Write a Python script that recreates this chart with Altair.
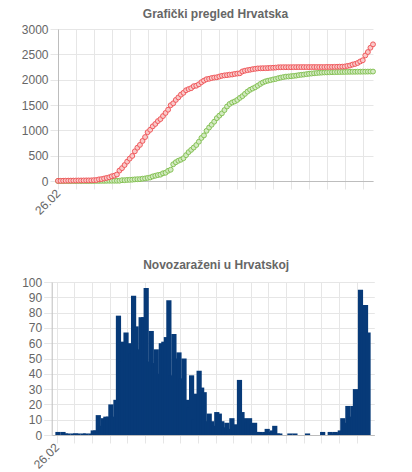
import altair as alt
import pandas as pd

first_label = "26.02"
title_top = "Grafički pregled Hrvatska"
title_bottom = "Novozaraženi u Hrvatskoj"

# cumulative confirmed cases (red)
cases_total = [
    3, 3, 5, 6, 7, 7, 8, 9, 10, 10,
    11, 12, 12, 13, 16, 19, 32, 38, 49, 61,
    73, 93, 105, 128, 206, 254, 315, 382, 442, 495,
    586, 657, 713, 790, 867, 963, 1011, 1079, 1126, 1182,
    1222, 1282, 1343, 1407, 1495, 1534, 1600, 1650, 1704, 1741,
    1791, 1814, 1832, 1871, 1881, 1908, 1950, 1981, 2009, 2018,
    2032, 2041, 2047, 2062, 2076, 2085, 2090, 2098, 2102, 2113,
    2120, 2126, 2162, 2177, 2188, 2196, 2207, 2214, 2222, 2224,
    2226, 2227, 2229, 2233, 2235, 2238, 2244, 2245, 2246, 2246,
    2246, 2246, 2247, 2247, 2248, 2248, 2248, 2248, 2248, 2249,
    2249, 2249, 2249, 2249, 2249, 2251, 2251, 2251, 2253, 2254,
    2256, 2257, 2260, 2271, 2279, 2298, 2310, 2329, 2359, 2383,
    2478, 2545, 2630, 2697,
]

# cumulative recovered (green)
recovered = [
    0, 0, 0, 0, 0, 0, 0, 0, 0, 0,
    0, 0, 0, 0, 1, 2, 2, 3, 3, 4,
    5, 5, 5, 5, 5, 16, 16, 21, 23, 26,
    32, 35, 36, 45, 51, 61, 69, 90, 104, 117,
    125, 152, 163, 201, 222, 330, 370, 400, 420, 450,
    510, 570, 615, 660, 710, 775, 850, 900, 990, 1055,
    1110, 1170, 1240, 1290, 1335, 1400, 1470, 1520, 1550, 1570,
    1600, 1640, 1675, 1720, 1765, 1800, 1825, 1850, 1880, 1915,
    1944, 1966, 1980, 1991, 2004, 2014, 2029, 2040, 2051, 2060,
    2063, 2069, 2074, 2080, 2090, 2096, 2101, 2109, 2116, 2121,
    2126, 2131, 2136, 2139, 2142, 2144, 2146, 2148, 2149, 2150,
    2151, 2152, 2153, 2154, 2155, 2155, 2156, 2157, 2157, 2158,
    2158, 2159, 2160, 2160,
]

# daily new cases (bars)
new_cases = [
    2, 0, 2, 1, 1, 0, 1, 1, 1, 0,
    1, 1, 0, 1, 3, 3, 13, 6, 11, 12,
    12, 20, 12, 23, 78, 48, 61, 67, 60, 53,
    91, 71, 56, 77, 77, 96, 48, 68, 47, 56,
    40, 60, 61, 64, 88, 39, 66, 50, 54, 37,
    50, 23, 18, 39, 10, 27, 42, 31, 28, 9,
    14, 9, 6, 15, 14, 9, 5, 8, 4, 11,
    7, 6, 36, 15, 11, 8, 11, 7, 8, 2,
    2, 1, 2, 4, 2, 3, 6, 1, 1, 0,
    0, 0, 1, 0, 1, 0, 0, 0, 0, 1,
    0, 0, 0, 0, 0, 2, 0, 0, 2, 1,
    2, 1, 3, 11, 8, 19, 12, 19, 30, 24,
    95, 67, 85, 67,
]

n = len(cases_total)
days = list(range(n))
top_df = pd.DataFrame({"day": days, "zarazeni": cases_total, "izlijeceni": recovered})
bottom_df = pd.DataFrame({"day": days, "novi": new_cases})

FONT = "Liberation Sans"
GRID = "#e6e6e6"
AXIS = "#bdbdbd"
LABEL = "#666666"
RED = "#f0595c"
RED_FILL = "#f9c9c9"
GREEN = "#86c256"
GREEN_FILL = "#d3eac2"
NAVY = "#073a78"

common = dict(
    title=None, grid=True, gridColor=GRID, tickColor=GRID, tickSize=8,
    domainColor=AXIS, labelColor=LABEL, labelFont=FONT, labelFontSize=12,
    labelPadding=2,
)

x_top = alt.X(
    "day:Q",
    scale=alt.Scale(domain=[0, n - 1], nice=False, zero=False),
    axis=alt.Axis(
        values=list(range(0, n, 7)),
        labelExpr=f"datum.value == 0 ? '{first_label}' : ''",
        labelAngle=315, labelAlign="right", labelBaseline="middle",
        labelFlush=False, labelOverlap=False, **common,
    ),
)
y_scale_top = alt.Scale(domain=[0, 3000], nice=False)
y_axis_top = alt.Axis(values=list(range(0, 3001, 500)), format="d", **common)

base = alt.Chart(top_df)
g_line = base.mark_line(color=GREEN, strokeWidth=1).encode(
    x=x_top, y=alt.Y("izlijeceni:Q", scale=y_scale_top, axis=y_axis_top))
g_pts = base.mark_circle(size=24, fill=GREEN_FILL, stroke=GREEN, strokeWidth=1, opacity=1).encode(
    x=x_top, y=alt.Y("izlijeceni:Q", scale=y_scale_top, axis=y_axis_top))
r_line = base.mark_line(color=RED, strokeWidth=1).encode(
    x=x_top, y=alt.Y("zarazeni:Q", scale=y_scale_top, axis=y_axis_top))
r_pts = base.mark_circle(size=24, fill=RED_FILL, stroke=RED, strokeWidth=1, opacity=1).encode(
    x=x_top, y=alt.Y("zarazeni:Q", scale=y_scale_top, axis=y_axis_top))

top = alt.layer(g_line, g_pts, r_line, r_pts).properties(
    width=315, height=152,
    title=alt.TitleParams(title_top, font=FONT, fontSize=12, fontWeight="bold",
                          color=LABEL, offset=2),
)

# bottom panel: its y axis sits 6 px further left than the top one
SHIFT = 6.3
bottom = alt.Chart(bottom_df).mark_bar(size=5.2, color=NAVY, clip=False).encode(
    x=alt.X(
        "day:Q",
        scale=alt.Scale(domain=[-0.5, n - 0.5], nice=False, zero=False,
                        range=[-SHIFT, 316.3]),
        axis=alt.Axis(
            values=[d - 0.5 for d in range(0, n, 7)],
            labelExpr=f"datum.value < 0 ? '{first_label}' : ''",
            labelAngle=315, labelAlign="right", labelBaseline="middle",
            labelFlush=False, labelOverlap=False, **common,
        ),
    ),
    y=alt.Y("novi:Q", scale=alt.Scale(domain=[0, 100], nice=False),
            axis=alt.Axis(values=list(range(0, 101, 10)), format="d",
                          offset=SHIFT, **common)),
).properties(
    width=316.3, height=153,
    title=alt.TitleParams(title_bottom, font=FONT, fontSize=12, fontWeight="bold",
                          color=LABEL, offset=4),
)

chart = alt.concat(top, bottom, columns=1, spacing=42, align="none").properties(
    padding={"left": 13, "top": 0, "right": 4, "bottom": 0}
).configure_view(strokeWidth=0)

chart.save("out.html", embed_options={"renderer": "svg", "actions": False})
